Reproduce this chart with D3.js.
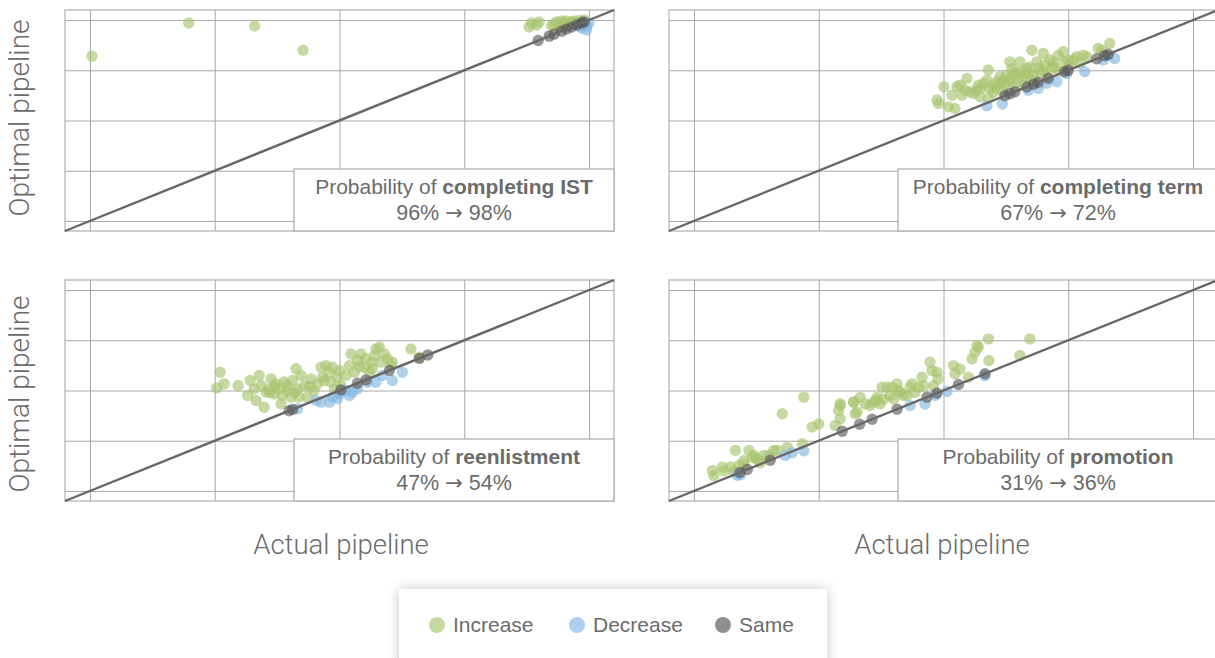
<!DOCTYPE html>
<html><head><meta charset="utf-8">
<script src="https://cdn.jsdelivr.net/npm/d3@7"></script>
<style>
html,body{margin:0;padding:0;background:#fff;overflow:hidden;}
svg{display:block;font-family:"Liberation Sans",Arial,Helvetica,sans-serif;}
</style></head>
<body>
<svg id="chart" width="1215" height="658"></svg>
<script>
// ---------- data ----------
const gridTicks = [0, 0.25, 0.5, 0.75, 1];
const panelTitles = ["completing IST", "completing term", "reenlistment", "promotion"];
const panelRates = [["96%", "98%"], ["67%", "72%"], ["47%", "54%"], ["31%", "36%"]];
const legendLabels = ["Increase", "Decrease", "Same"];

// [actual, optimal]
const istIncrease = [[0.004,0.82],[0.198,0.985],[0.33,0.97],[0.427,0.85],
  [0.88,0.965],[0.885,0.985],[0.895,0.975],[0.9,0.99],[0.93,0.98],[0.935,0.99],[0.94,0.975],[0.945,0.995],
  [0.95,0.985],[0.955,0.995],[0.96,0.98],[0.965,0.99],[0.97,0.995],[0.975,0.985],[0.98,0.998],[0.985,0.99],
  [0.99,1.0],[0.94,0.965],[0.955,0.97],[0.925,0.97],[0.97,0.98]];
const istDecrease = [[0.985,0.96],[0.99,0.975],[0.995,0.95],[1.0,0.985],[0.995,0.97],[0.98,0.97]];
const istSame = [0.898,0.92,0.93,0.945,0.955,0.965,0.975,0.985,0.99];

const termIncrease = [[0.487,0.602],[0.49,0.585],[0.501,0.668],[0.51,0.568],[0.523,0.56],[0.517,0.626],
  [0.527,0.668],[0.533,0.676],[0.537,0.626],[0.547,0.709],[0.543,0.651],[0.553,0.643],[0.56,0.635],
  [0.567,0.651],[0.57,0.676],[0.573,0.618],[0.58,0.685],[0.587,0.701],[0.59,0.751],[0.59,0.61],
  [0.593,0.66],[0.6,0.676],[0.607,0.693],[0.613,0.718],[0.617,0.651],[0.623,0.676],[0.627,0.726],
  [0.63,0.693],[0.633,0.792],[0.637,0.759],[0.64,0.734],[0.643,0.676],[0.647,0.701],[0.653,0.792],
  [0.657,0.743],[0.66,0.676],[0.663,0.718],[0.667,0.759],[0.673,0.767],[0.677,0.85],[0.68,0.726],
  [0.683,0.693],[0.687,0.792],[0.693,0.743],[0.7,0.834],[0.703,0.776],[0.707,0.718],[0.713,0.801],
  [0.717,0.759],[0.723,0.767],[0.73,0.825],[0.733,0.745],[0.74,0.842],[0.743,0.792],[0.753,0.776],
  [0.76,0.801],[0.767,0.817],[0.773,0.784],[0.78,0.825],[0.787,0.817],[0.81,0.859],[0.817,0.85],[0.833,0.884],
  [0.575,0.66],[0.605,0.66],[0.615,0.685],[0.635,0.71],[0.655,0.72],[0.67,0.735],[0.69,0.76],[0.72,0.79],
  [0.6,0.64],[0.62,0.7],[0.645,0.74],[0.675,0.7],[0.7,0.75],[0.75,0.8]];
const termDecrease = [[0.587,0.573],[0.618,0.582],[0.67,0.651],[0.69,0.66],[0.707,0.685],[0.727,0.693],
  [0.747,0.734],[0.783,0.743],[0.82,0.801],[0.83,0.822],[0.843,0.809]];
const termSame = [0.623,0.633,0.643,0.667,0.68,0.69,0.71,0.743,0.75,0.807,0.823,0.83];

const reenIncrease = [[0.254,0.513],[0.261,0.591],[0.269,0.533],[0.297,0.525],[0.316,0.475],[0.321,0.55],
  [0.333,0.45],[0.339,0.575],[0.329,0.508],[0.343,0.525],[0.349,0.417],[0.353,0.492],[0.359,0.508],
  [0.363,0.558],[0.369,0.483],[0.373,0.533],[0.379,0.508],[0.383,0.434],[0.386,0.475],[0.389,0.542],
  [0.396,0.5],[0.403,0.467],[0.406,0.55],[0.413,0.608],[0.416,0.508],[0.419,0.467],[0.423,0.575],
  [0.43,0.525],[0.436,0.467],[0.443,0.558],[0.449,0.5],[0.456,0.533],[0.463,0.616],[0.466,0.566],
  [0.473,0.624],[0.48,0.591],[0.483,0.542],[0.486,0.616],[0.49,0.508],[0.496,0.566],[0.503,0.525],
  [0.513,0.575],[0.52,0.624],[0.523,0.682],[0.53,0.591],[0.536,0.649],[0.543,0.682],[0.55,0.616],
  [0.553,0.658],[0.56,0.591],[0.566,0.608],[0.57,0.674],[0.573,0.707],[0.58,0.716],[0.583,0.641],
  [0.59,0.682],[0.596,0.657],[0.603,0.624],[0.606,0.641],[0.643,0.707],[0.66,0.666],
  [0.36,0.49],[0.37,0.52],[0.395,0.525],[0.41,0.49],[0.44,0.52],[0.47,0.55],[0.5,0.6],[0.54,0.62],[0.565,0.64]];
const reenDecrease = [[0.416,0.409],[0.453,0.45],[0.463,0.442],[0.48,0.442],[0.486,0.467],[0.496,0.459],
  [0.5,0.483],[0.513,0.5],[0.52,0.475],[0.526,0.492],[0.536,0.508],[0.556,0.541],[0.573,0.541],
  [0.586,0.575],[0.606,0.55],[0.626,0.591]];
const reenSame = [0.399,0.406,0.503,0.536,0.553,0.6,0.66,0.677];

const promIncrease = [[0.037,0.102],[0.04,0.077],[0.057,0.119],[0.073,0.119],[0.083,0.202],[0.08,0.094],
  [0.09,0.127],[0.1,0.135],[0.11,0.202],[0.117,0.168],[0.12,0.177],[0.13,0.152],[0.133,0.14],[0.14,0.177],
  [0.15,0.177],[0.16,0.202],[0.167,0.202],[0.187,0.218],[0.177,0.384],[0.217,0.235],[0.22,0.467],
  [0.237,0.318],[0.25,0.334],[0.283,0.326],[0.29,0.401],[0.293,0.359],[0.293,0.434],[0.32,0.442],[0.323,0.384],
  [0.293,0.425],[0.32,0.442],[0.327,0.392],[0.333,0.466],[0.343,0.433],[0.353,0.425],[0.36,0.442],
  [0.367,0.466],[0.373,0.433],[0.377,0.516],[0.38,0.458],[0.387,0.516],[0.393,0.475],[0.397,0.516],
  [0.4,0.458],[0.407,0.533],[0.413,0.491],[0.42,0.475],[0.427,0.475],[0.433,0.516],[0.437,0.533],
  [0.443,0.491],[0.45,0.516],[0.457,0.566],[0.46,0.524],[0.473,0.641],[0.477,0.599],[0.48,0.524],
  [0.487,0.591],[0.489,0.558],[0.52,0.624],[0.523,0.583],[0.533,0.607],[0.55,0.566],[0.557,0.657],
  [0.563,0.69],[0.567,0.723],[0.57,0.715],[0.59,0.757],[0.591,0.649],[0.653,0.674],[0.673,0.757],
  [0.06,0.1],[0.1,0.15],[0.125,0.16],[0.365,0.45],[0.41,0.5]];
const promDecrease = [[0.087,0.078],[0.093,0.08],[0.183,0.177],[0.197,0.19],[0.22,0.2],
  [0.433,0.425],[0.463,0.433],[0.483,0.475],[0.507,0.495],[0.583,0.574]];
const promSame = [0.092,0.107,0.153,0.297,0.332,0.357,0.407,0.467,0.487,0.53,0.583];

// ---------- layout ----------
const svg = d3.select("#chart");
const W = 549, H = 221;
const panelPos = [[65,10],[669,10],[65,280],[669,280]];
const colors = {inc:"#a9c470", dec:"#86b8e2", same:"#505050"};
const legendColors = ["#c6d9a1","#abcfec","#8f8f8f"];
const textColor = "#6b6b6b";
const datasets = [
  [istIncrease, istDecrease, istSame],
  [termIncrease, termDecrease, termSame],
  [reenIncrease, reenDecrease, reenSame],
  [promIncrease, promDecrease, promSame]
];

datasets.forEach((ds, i) => {
  const [px, py] = panelPos[i];
  const x = d3.scaleLinear().domain([-0.05, 1.05]).range([0, W]);
  const y = d3.scaleLinear().domain([-0.05, 1.05]).range([H, 0]);
  const g = svg.append("g").attr("transform", `translate(${px},${py})`);

  g.append("rect").attr("width", W).attr("height", H).attr("fill", "#fff")
    .attr("stroke", "#cfcfcf").attr("stroke-width", 2);

  const gx = g.append("g").attr("transform", `translate(0,${H})`)
    .call(d3.axisBottom(x).tickValues(gridTicks).tickSize(-H).tickFormat(""));
  const gy = g.append("g")
    .call(d3.axisLeft(y).tickValues(gridTicks).tickSize(-W).tickFormat(""));
  [gx, gy].forEach(a => {
    a.select(".domain").remove();
    a.selectAll("line").attr("stroke", "#a8a8a8").attr("stroke-width", 1);
  });

  const [inc, dec, same] = ds;
  const r = 5.7;
  g.append("g").selectAll("circle").data(inc).join("circle")
    .attr("cx", d => x(d[0])).attr("cy", d => y(d[1])).attr("r", r)
    .attr("fill", colors.inc).attr("fill-opacity", 0.65);
  g.append("g").selectAll("circle").data(dec).join("circle")
    .attr("cx", d => x(d[0])).attr("cy", d => y(d[1])).attr("r", r)
    .attr("fill", colors.dec).attr("fill-opacity", 0.65);
  g.append("g").selectAll("circle").data(same).join("circle")
    .attr("cx", d => x(d)).attr("cy", d => y(d)).attr("r", r)
    .attr("fill", colors.same).attr("fill-opacity", 0.6);

  g.append("line")
    .attr("x1", x(-0.05)).attr("y1", y(-0.05)).attr("x2", x(1.05)).attr("y2", y(1.05))
    .attr("stroke", "#6b6666").attr("stroke-width", 2.4);

  // annotation box
  const bw = 320, bh = 62;
  const bx = W - bw, by = H - bh;
  g.append("rect").attr("x", bx).attr("y", by).attr("width", bw).attr("height", bh)
    .attr("fill", "#fff").attr("stroke", "#aaaaaa").attr("stroke-width", 1.2);
  const t1 = g.append("text").attr("x", bx + bw/2).attr("y", by + 25)
    .attr("text-anchor", "middle").attr("font-size", 21).attr("fill", textColor);
  t1.append("tspan").text("Probability of ");
  t1.append("tspan").attr("font-weight", "bold").text(panelTitles[i]);
  const t2 = g.append("text").attr("x", bx + bw/2).attr("y", by + 51)
    .attr("text-anchor", "middle").attr("font-size", 21.5).attr("fill", textColor);
  t2.append("tspan").text(panelRates[i][0] + " ");
  t2.append("tspan").attr("font-family", "DejaVu Sans").attr("font-size", 21).text("\u2192");
  t2.append("tspan").text(" " + panelRates[i][1]);
});

// axis titles
[118, 394].forEach(cy => {
  svg.append("text").attr("transform", `translate(29,${cy}) rotate(-90)`)
    .attr("text-anchor", "middle").attr("font-size", 28).attr("fill", textColor)
    .attr("font-family", "Roboto").attr("font-weight", 300)
    .text("Optimal pipeline");
});
[341, 942].forEach(cx => {
  svg.append("text").attr("x", cx).attr("y", 554)
    .attr("text-anchor", "middle").attr("font-size", 27.5).attr("fill", textColor)
    .attr("font-family", "Roboto").attr("font-weight", 300)
    .text("Actual pipeline");
});

// legend
const defs = svg.append("defs");
const f = defs.append("filter").attr("id", "shadow").attr("x", "-20%").attr("y", "-50%").attr("width", "140%").attr("height", "200%");
f.append("feDropShadow").attr("dx", 0).attr("dy", 0).attr("stdDeviation", 6).attr("flood-color", "#000").attr("flood-opacity", 0.22);
svg.append("rect").attr("x", 399).attr("y", 589).attr("width", 428).attr("height", 80)
  .attr("fill", "#fff").attr("filter", "url(#shadow)");
const legendX = [437, 577, 723];
legendLabels.forEach((lab, i) => {
  svg.append("circle").attr("cx", legendX[i]).attr("cy", 625).attr("r", 8).attr("fill", legendColors[i]);
  svg.append("text").attr("x", legendX[i] + 16).attr("y", 632).attr("font-size", 21)
    .attr("fill", textColor).text(lab);
});
</script>
</body></html>
